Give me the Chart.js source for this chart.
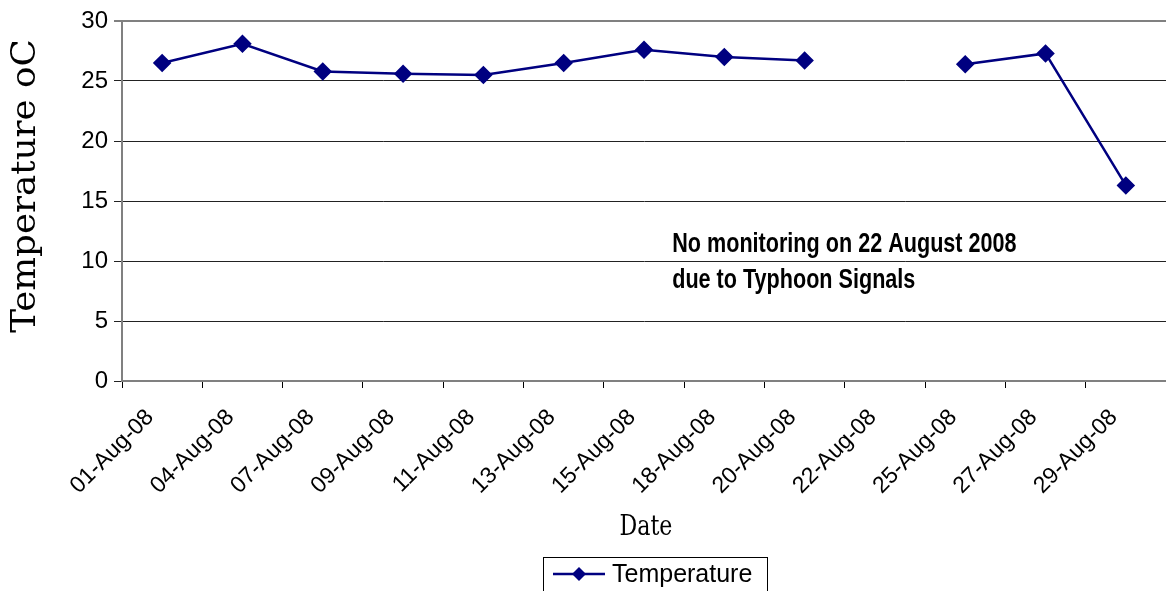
<!DOCTYPE html>
<html>
<head>
<meta charset="utf-8">
<script src="https://cdn.jsdelivr.net/npm/chart.js@4.4.1/dist/chart.umd.min.js"></script>
<style>
  html, body { margin: 0; padding: 0; background: #fff; overflow: hidden; }
  #wrap { width: 1166px; height: 591px; position: relative; }
  canvas { display: block; }
</style>
</head>
<body>
<div id="wrap"><canvas id="grafica"></canvas></div>
<script>
const fechas = [
    '01-Aug-08', '04-Aug-08', '07-Aug-08', '09-Aug-08', '11-Aug-08',
    '13-Aug-08', '15-Aug-08', '18-Aug-08', '20-Aug-08', '22-Aug-08',
    '25-Aug-08', '27-Aug-08', '29-Aug-08'
];
const temperatura = [26.5, 28.1, 25.8, 25.6, 25.5, 26.5, 27.6, 27.0, 26.7, null, 26.4, 27.3, 16.3];
const marcasY = [0, 5, 10, 15, 20, 25, 30];
const nota = ['No monitoring on 22 August 2008', 'due to Typhoon Signals'];
const tituloX = 'Date';
const tituloY = 'Temperature oC';

const azul = '#000080';

// textos estrechos (titulos, nota) y leyenda dibujados a mano
function textoEstrecho(ctx, texto, x, y, escalaX){
    ctx.save();
    ctx.translate(x, y);
    ctx.scale(escalaX, 1);
    ctx.fillText(texto, 0, 0);
    ctx.restore();
}

const extras = {
    id: 'extras',
    afterDraw(chart){
        const ctx = chart.ctx;
        const area = chart.chartArea;
        ctx.save();
        ctx.fillStyle = '#000';

        // nota del tifon
        ctx.font = 'bold 27px "Liberation Sans", Arial, sans-serif';
        ctx.textBaseline = 'alphabetic';
        ctx.textAlign = 'left';
        const nx = area.left + (area.right - area.left) * 0.527;
        textoEstrecho(ctx, nota[0], nx, 252, 0.8);
        textoEstrecho(ctx, nota[1], nx, 288, 0.8);

        // titulo eje x
        ctx.font = '27px "DejaVu Serif", serif';
        ctx.textAlign = 'center';
        textoEstrecho(ctx, tituloX, (area.left + area.right) / 2 + 2, 535, 0.82);

        // titulo eje y
        ctx.save();
        ctx.translate(35, 186);
        ctx.rotate(-Math.PI / 2);
        ctx.scale(1.08, 1);
        ctx.font = '33px "DejaVu Serif", serif';
        ctx.textAlign = 'center';
        ctx.fillText(tituloY, 0, 0);
        ctx.restore();

        // leyenda
        ctx.strokeStyle = '#000';
        ctx.lineWidth = 1;
        ctx.strokeRect(543.5, 557.5, 224, 40);
        ctx.strokeStyle = azul;
        ctx.lineWidth = 2.5;
        ctx.beginPath();
        ctx.moveTo(553, 574);
        ctx.lineTo(605, 574);
        ctx.stroke();
        ctx.fillStyle = azul;
        ctx.beginPath();
        ctx.moveTo(579, 567);
        ctx.lineTo(586, 574);
        ctx.lineTo(579, 581);
        ctx.lineTo(572, 574);
        ctx.closePath();
        ctx.fill();
        ctx.fillStyle = '#000';
        ctx.font = '25px "Liberation Sans", Arial, sans-serif';
        ctx.textAlign = 'left';
        ctx.textBaseline = 'middle';
        ctx.fillText(chart.data.datasets[0].label, 612, 575);

        ctx.restore();
    }
};

new Chart(document.getElementById('grafica'), {
    type: 'line',
    data: {
        labels: fechas,
        datasets: [{
            label: 'Temperature',
            data: temperatura,
            borderColor: azul,
            backgroundColor: azul,
            pointBackgroundColor: azul,
            pointBorderColor: azul,
            borderWidth: 2.5,
            pointStyle: 'rectRot',
            pointRadius: 7.5,
            pointHoverRadius: 7.5,
            spanGaps: false,
            tension: 0
        }]
    },
    options: {
        responsive: true,
        maintainAspectRatio: false,
        animation: false,
        layout: { autoPadding: false, padding: { top: 21, right: 0, bottom: 0, left: 0 } },
        plugins: {
            legend: { display: false },
            tooltip: { enabled: false }
        },
        scales: {
            x: {
                offset: true,
                grid: {
                    offset: true,
                    drawOnChartArea: false,
                    drawTicks: true,
                    tickLength: 7,
                    color: '#000'
                },
                border: { color: '#808080', width: 2 },
                ticks: {
                    color: '#000',
                    font: { family: '"Liberation Sans", Arial, sans-serif', size: 23 },
                    minRotation: 45,
                    maxRotation: 45,
                    autoSkip: false,
                    padding: 16,
                    labelOffset: -12
                },
                afterFit(escala){
                    escala.height = 210;
                    escala.paddingLeft = 0;
                    escala.paddingRight = 0;
                }
            },
            y: {
                min: 0,
                max: 30,
                afterBuildTicks(escala){
                    escala.ticks = marcasY.map(v => ({ value: v }));
                },
                grid: {
                    color: ctx => ctx.tick && ctx.tick.value === 30 ? '#808080' : '#222',
                    lineWidth: ctx => ctx.tick && ctx.tick.value === 30 ? 2 : 1,
                    tickLength: 8
                },
                border: { color: '#808080', width: 2 },
                ticks: {
                    color: '#000',
                    font: { family: '"Liberation Sans", Arial, sans-serif', size: 24 },
                    padding: 6
                },
                afterFit(escala){ escala.width = 122; }
            }
        }
    },
    plugins: [extras]
});
</script>
</body>
</html>
